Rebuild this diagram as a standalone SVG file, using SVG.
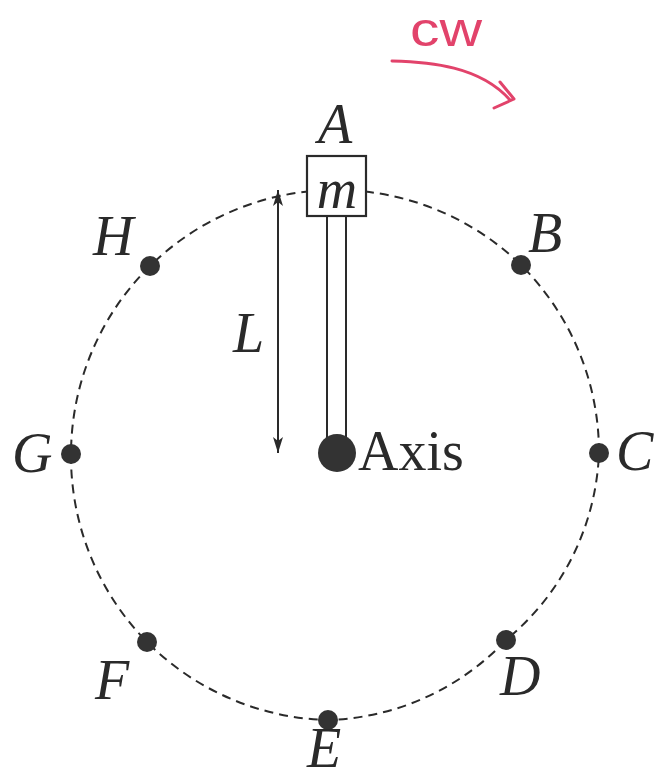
<svg xmlns="http://www.w3.org/2000/svg" width="670" height="780" viewBox="0 0 670 780">
<style>
.lbl{font-family:"Liberation Serif","Times New Roman",serif;font-style:italic;font-size:56px;fill:#2a2a2a}
.ax{font-family:"Liberation Serif","Times New Roman",serif;font-size:56px;fill:#2a2a2a}
.dot{fill:#333}
.ln{stroke:#2a2a2a;stroke-width:2;fill:none}
.red{stroke:#e2436b;stroke-width:3;fill:none;stroke-linecap:round;stroke-linejoin:round}
</style>
<defs>
<marker id="ah" markerWidth="16" markerHeight="10" refX="16" refY="5" orient="auto-start-reverse" markerUnits="userSpaceOnUse" viewBox="0 0 16 10">
<path d="M0,0 L16,5 L0,10 L4,5 Z" fill="#2a2a2a"/>
</marker>
</defs>
<rect width="670" height="780" fill="#fff"/>
<g id="path-circle">
<path class="ln" stroke-width="2.5" stroke-dasharray="9 6" d="M335,190 A265,265 0 0 1 521,265 A265,265 0 0 1 599,453 A255,255 0 0 1 506,640 A255,255 0 0 1 328,720 A265,265 0 0 1 147,642 A265,265 0 0 1 71,454 A265,265 0 0 1 150,266 A265,265 0 0 1 335,190"/>
</g>
<g id="connectors">
<line class="ln" x1="278" y1="190" x2="278" y2="453" marker-start="url(#ah)" marker-end="url(#ah)"/>
<line class="ln" x1="327" y1="216" x2="327" y2="440"/>
<line class="ln" x1="346" y1="216" x2="346" y2="440"/>
</g>
<g id="mass">
<rect x="307" y="156" width="59" height="60" fill="#fff" stroke="#2a2a2a" stroke-width="2.2"/>
<text class="lbl" x="337" y="208" text-anchor="middle">m</text>
<text class="lbl" x="335" y="143" text-anchor="middle">A</text>
</g>
<g id="axis">
<circle class="dot" cx="337" cy="453" r="19"/>
<text class="ax" x="358" y="470">Axis</text>
</g>
<g id="label-L"><text class="lbl" x="233" y="352">L</text></g>
<g id="point-B"><circle class="dot" cx="521" cy="265" r="10"/><text class="lbl" x="528" y="252">B</text></g>
<g id="point-C"><circle class="dot" cx="599" cy="453" r="10"/><text class="lbl" x="616" y="470">C</text></g>
<g id="point-D"><circle class="dot" cx="506" cy="640" r="10"/><text class="lbl" x="500" y="695">D</text></g>
<g id="point-E"><circle class="dot" cx="328" cy="720" r="10"/><text class="lbl" x="307" y="767" font-size="52">E</text></g>
<g id="point-F"><circle class="dot" cx="147" cy="642" r="10"/><text class="lbl" x="95" y="699">F</text></g>
<g id="point-G"><circle class="dot" cx="71" cy="454" r="10"/><text class="lbl" x="12" y="472">G</text></g>
<g id="point-H"><circle class="dot" cx="150" cy="266" r="10"/><text class="lbl" x="93" y="255">H</text></g>
<g id="cw">
<text x="410" y="46" font-family="Liberation Sans, Arial, sans-serif" font-size="48" fill="#e2436b" textLength="72" lengthAdjust="spacingAndGlyphs">cw</text>
<path class="red" d="M392,61 C430,62 480,66 510,100"/>
<path class="red" d="M500,82 L514,99 L494,108"/>
</g>
</svg>
